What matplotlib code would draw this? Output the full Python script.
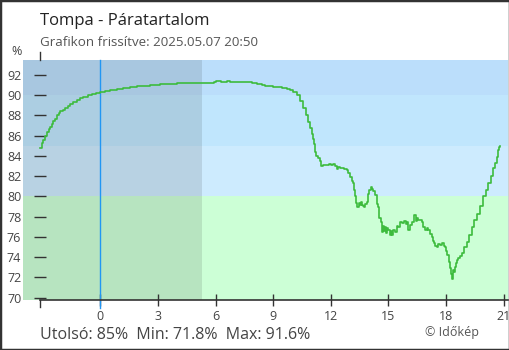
import matplotlib.pyplot as plt
from matplotlib.patches import Rectangle
from matplotlib.transforms import blended_transform_factory

plt.rcParams['font.family'] = ['Open Sans', 'DejaVu Sans']

# órák éjfélhez képest (tegnap 20:50 -> ma 20:50) és a páratartalom (%)
hours = [
    -3.13, -3.05, -2.97, -2.88, -2.79, -2.70, -2.62, -2.53, -2.45, -2.36,
    -2.27, -2.18, -2.10, -1.97, -1.84, -1.71, -1.58, -1.40, -1.23, -1.06,
    -0.89, -0.67, -0.45, -0.22, 0.00, 0.25, 0.50, 0.85, 1.20, 1.55,
    1.90, 2.25, 2.60, 3.10, 3.50, 4.00, 4.60, 5.20, 5.90, 6.00,
    6.30, 6.60, 6.75, 7.20, 7.60, 7.90, 8.15, 8.40, 8.60, 9.00,
    9.45, 9.70, 9.88, 10.05, 10.23, 10.40, 10.57, 10.70, 10.83, 10.92,
    11.01, 11.08, 11.15, 11.20, 11.22, 11.35, 11.42, 11.48, 11.60, 11.79,
    11.90, 12.00, 12.14, 12.22, 12.31, 12.40, 12.50, 12.57, 12.70, 12.83,
    12.92, 13.00, 13.09, 13.14, 13.20, 13.27, 13.33, 13.39, 13.45, 13.50,
    13.56, 13.62, 13.68, 13.73, 13.80, 13.87, 13.95, 14.00, 14.08, 14.15,
    14.22, 14.31, 14.40, 14.47, 14.53, 14.60, 14.66, 14.72, 14.78, 14.83,
    14.90, 14.95, 15.00, 15.06, 15.12, 15.18, 15.25, 15.35, 15.45, 15.52,
    15.60, 15.70, 15.80, 15.90, 15.96, 16.04, 16.10, 16.22, 16.34, 16.42,
    16.50, 16.56, 16.65, 16.74, 16.82, 16.91, 17.00, 17.08, 17.18, 17.26,
    17.32, 17.38, 17.45, 17.52, 17.60, 17.69, 17.80, 17.88, 17.95, 18.02,
    18.07, 18.14, 18.21, 18.26, 18.30, 18.35, 18.39, 18.43, 18.47, 18.53,
    18.56, 18.65, 18.72, 18.82, 18.95, 19.08, 19.20, 19.34, 19.47, 19.60,
    19.78, 19.95, 20.08, 20.21, 20.34, 20.47, 20.56, 20.65, 20.72, 20.77,
    20.82,
]
humidity = [
    84.8, 85.3, 85.6, 86.0, 86.4, 86.7, 86.9, 87.2, 87.45, 87.7,
    88.0, 88.2, 88.4, 88.55, 88.7, 88.9, 89.1, 89.35, 89.55, 89.7,
    89.85, 90.0, 90.1, 90.2, 90.3, 90.45, 90.55, 90.65, 90.7, 90.8,
    90.9, 90.95, 91.05, 91.1, 91.15, 91.2, 91.2, 91.25, 91.3, 91.45,
    91.35, 91.45, 91.3, 91.35, 91.3, 91.25, 91.15, 91.0, 90.95, 90.85,
    90.7, 90.6, 90.5, 90.3, 90.0, 89.4, 88.7, 88.0, 87.4, 86.8,
    86.2, 85.7, 85.2, 84.4, 84.0, 83.75, 83.5, 83.05, 83.1, 83.1,
    83.2, 83.1, 83.25, 83.0, 82.7, 82.9, 82.8, 82.85, 82.7, 82.65,
    82.3, 81.95, 81.5, 81.3, 80.6, 80.0, 79.4, 79.0, 79.4, 79.2,
    79.5, 79.2, 79.1, 79.0, 79.3, 79.5, 80.2, 80.6, 80.95, 80.7,
    80.5, 80.1, 79.3, 79.0, 77.85, 77.5, 76.5, 77.1, 76.6, 77.0,
    76.4, 76.9, 76.7, 76.2, 76.6, 76.2, 76.7, 76.5, 77.1, 77.0,
    77.5, 77.4, 77.6, 77.3, 77.5, 76.7, 77.2, 77.5, 78.15, 77.6,
    77.9, 77.65, 77.7, 77.5, 77.0, 76.7, 76.9, 76.7, 76.3, 76.0,
    75.6, 75.4, 75.1, 75.0, 75.3, 75.2, 75.4, 75.1, 75.0, 74.6,
    74.2, 73.5, 72.9, 72.3, 71.8, 72.4, 72.7, 72.5, 73.05, 73.4,
    73.7, 73.9, 74.1, 74.4, 75.0, 75.5, 76.2, 77.0, 77.7, 78.3,
    79.1, 80.0, 80.6, 81.3, 82.0, 82.8, 83.3, 83.9, 84.6, 84.9,
    85.0,
]

# háttérsávok: határok és színek alulról felfelé
band_edges = [60, 80, 85, 90, 100]
band_colors = ['#ccffd6', '#cdebfe', '#c0e6fd', '#bbdefb']
sunrise = 5.3

x_ticks = [0, 3, 6, 9, 12, 15, 18, 21]
y_ticks = [70, 72, 74, 76, 78, 80, 82, 84, 86, 88, 90, 92]

W, H = 510, 350
fig = plt.figure(figsize=(W / 100, H / 100), dpi=100)
ax = fig.add_axes([23 / W, 1 - 300 / H, 485 / W, 240 / H])

xmin, xmax = -4.03, 21.23
ax.set_xlim(xmin, xmax)
ax.set_ylim(69.77, 93.48)

for lo, hi, c in zip(band_edges[:-1], band_edges[1:], band_colors):
    ax.axhspan(lo, hi, color=c, lw=0, zorder=0)
ax.axvspan(xmin, sunrise, color='#222222', alpha=0.12, lw=0, zorder=1)

ax.axvline(0, ymin=-0.035, ymax=1, color='#2196f3', lw=1, clip_on=False, zorder=2)
ax.plot(hours, humidity, color='#3dbb3d', lw=1.2, drawstyle='steps-post', zorder=3)

# tengelyek
start = hours[0]
for s in ['top', 'right']:
    ax.spines[s].set_visible(False)
ax.spines['left'].set_position(('data', start))
ax.spines['left'].set_color('none')
ax.spines['bottom'].set_bounds(start, xmax)
ax.spines['bottom'].set_color('#333333')
ax.spines['bottom'].set_linewidth(1.2)

ax.set_xticks(x_ticks)
ax.set_yticks(y_ticks)
ax.tick_params(axis='both', direction='inout', length=8.6, width=1,
               color='#333333', labelcolor='#444444', labelsize=9)
ax.tick_params(axis='x', pad=2.6)
ax.tick_params(axis='y', pad=9.4)

trans = blended_transform_factory(ax.transData, ax.transAxes)
ax.plot([start, start], [1.0, 1.034], transform=trans, color='#333333',
        lw=1, clip_on=False)
ax.plot([start, start], [0.0, -0.03], transform=trans, color='#333333',
        lw=1, clip_on=False)

# szövegek
fig.text(40 / W, 1 - 25 / H, 'Tompa - Páratartalom', fontsize=12,
         color='#222222', va='baseline')
fig.text(40 / W, 1 - 45.5 / H, 'Grafikon frissítve: 2025.05.07 20:50',
         fontsize=9.6, color='#555555', va='baseline')
fig.text(17 / W, 1 - 55 / H, '%', fontsize=9, color='#444444',
         ha='center', va='baseline')
fig.text(40 / W, 1 - 339 / H, 'Utolsó: 85%  Min: 71.8%  Max: 91.6%',
         fontsize=11.5, color='#444444', va='baseline')
fig.text(425 / W, 1 - 336 / H, '© Időkép', fontsize=9, color='#555555',
         va='baseline')

fig.patches.append(Rectangle((0, 0), 1, 1, transform=fig.transFigure,
                             fill=False, edgecolor='#333333', lw=2.5))

fig.savefig('out.png', dpi=100)
